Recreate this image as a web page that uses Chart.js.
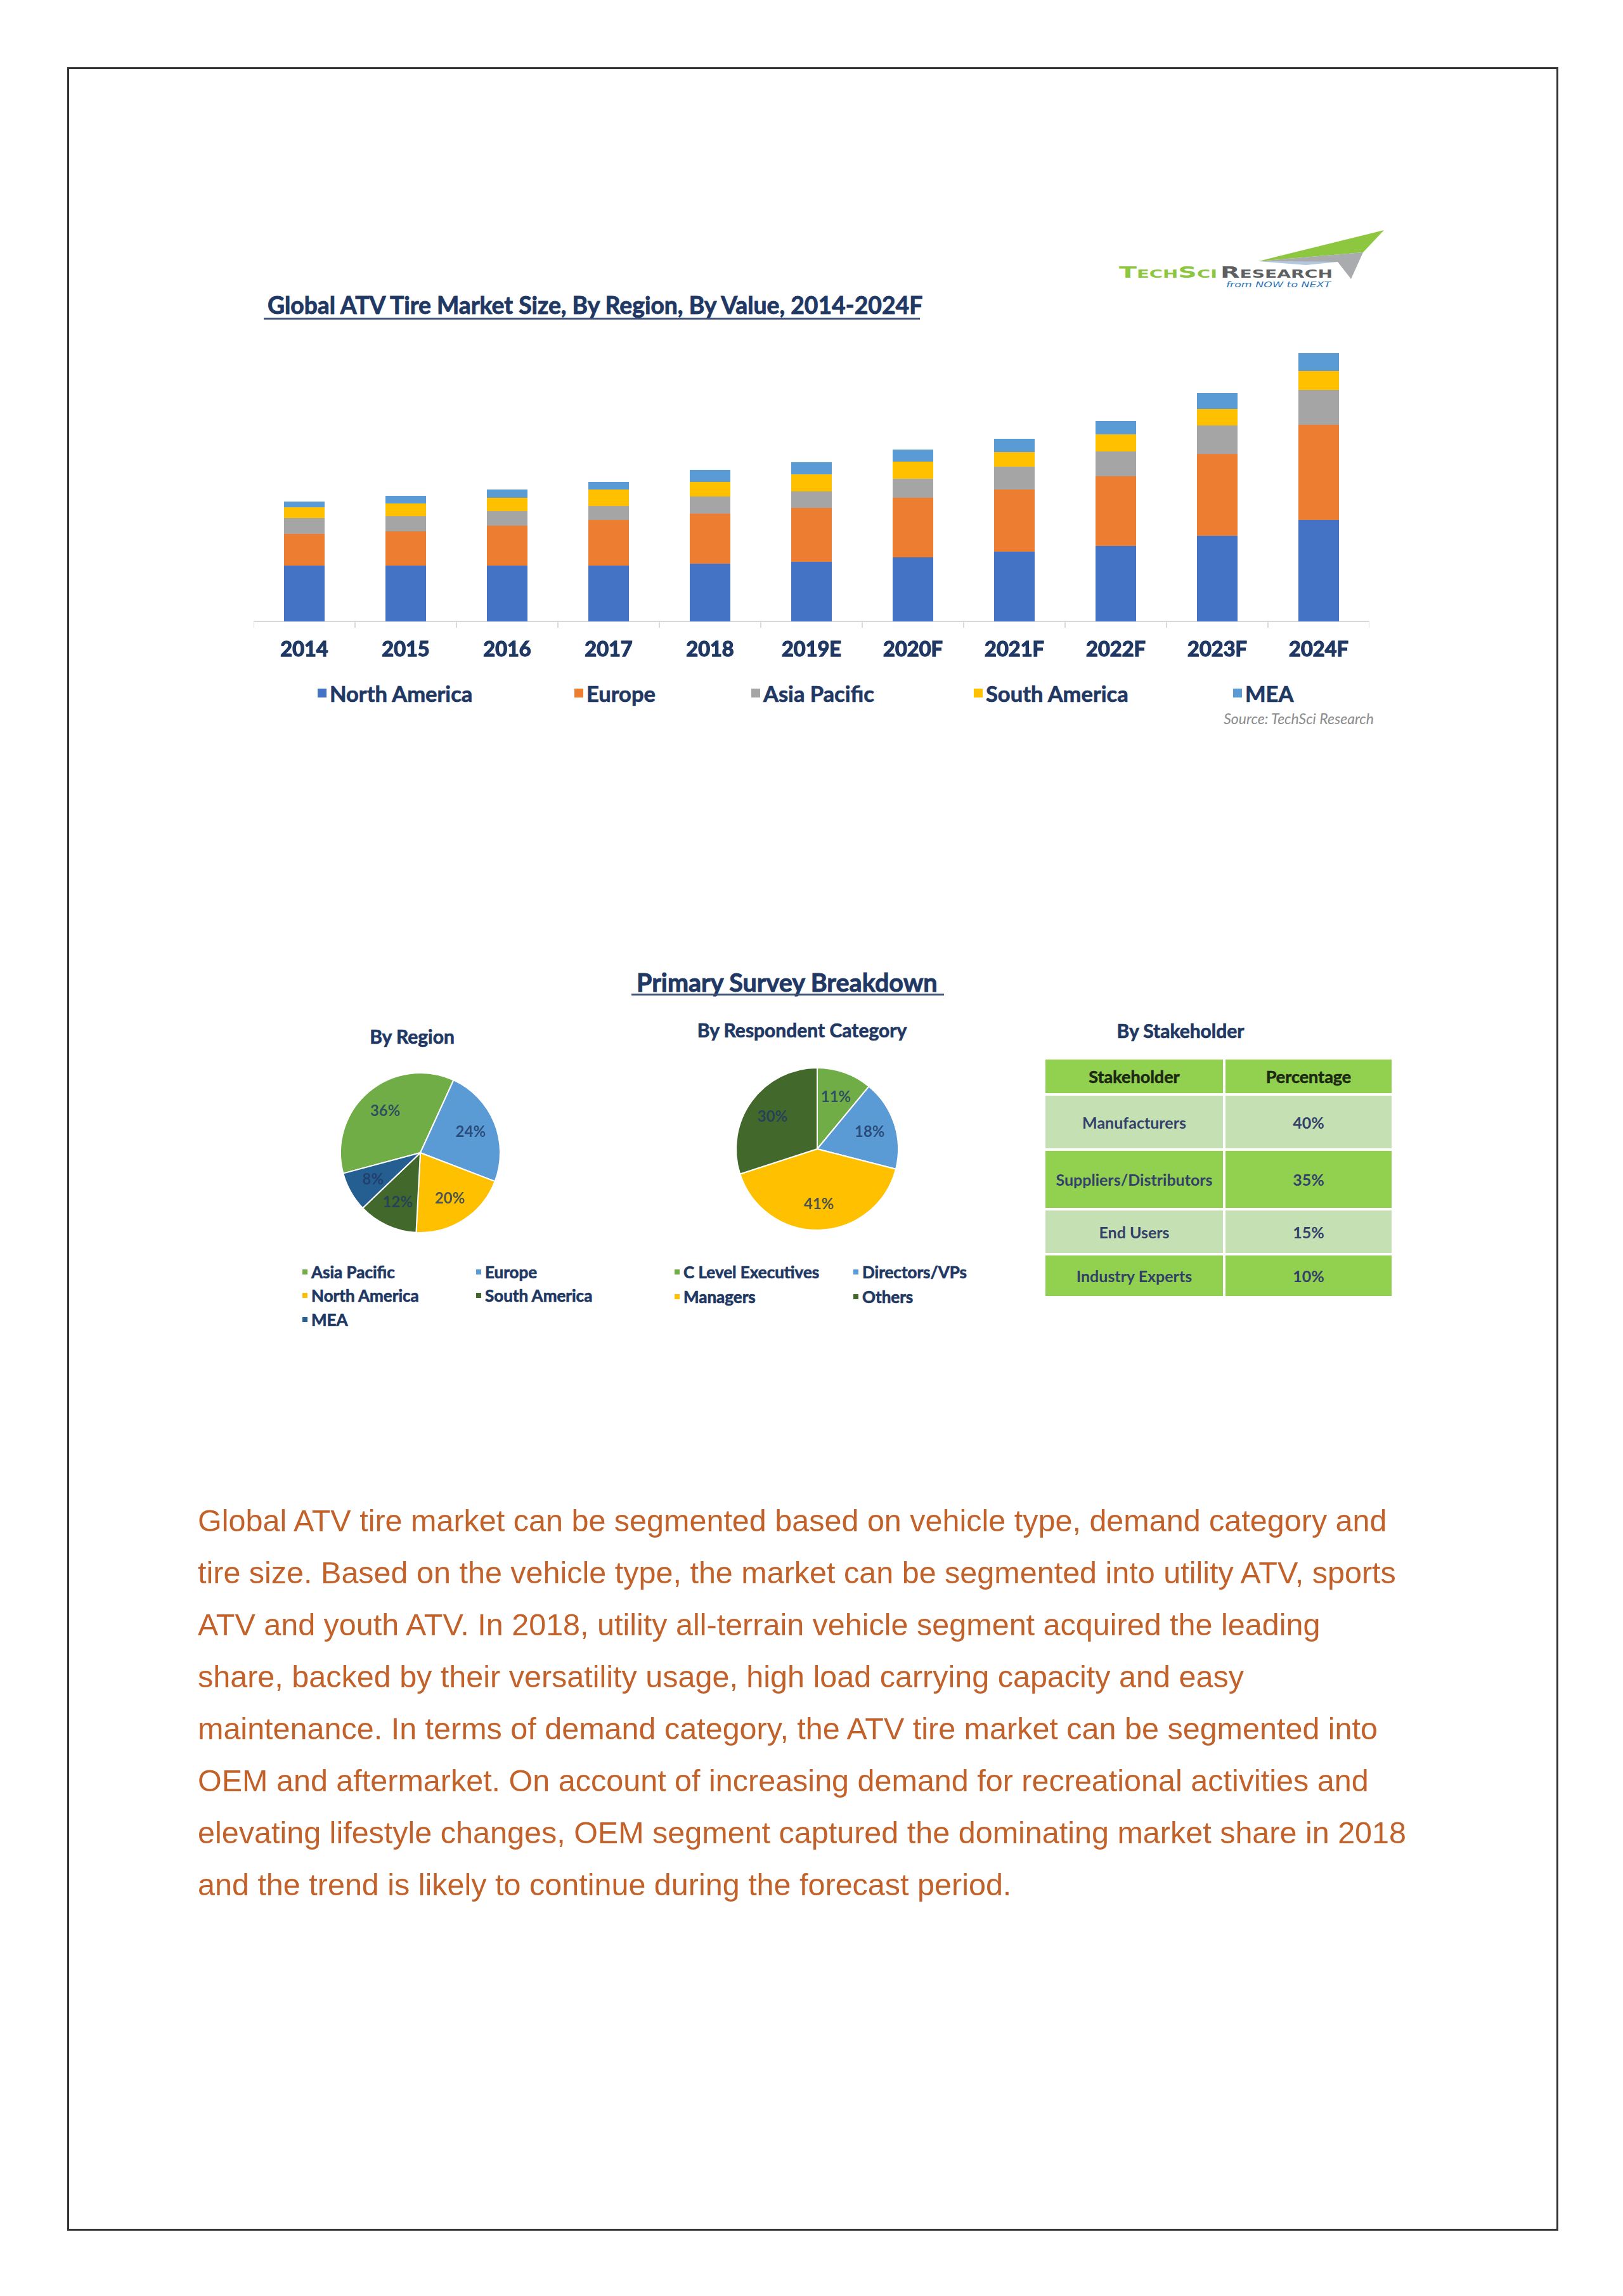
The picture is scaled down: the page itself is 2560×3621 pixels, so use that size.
<!DOCTYPE html>
<html>
<head>
<meta charset="utf-8">
<script src="https://cdn.jsdelivr.net/npm/chart.js@4.4.1/dist/chart.umd.min.js"></script>
<style>
html,body{margin:0;padding:0;background:#fff;}
body{width:2560px;height:3621px;position:relative;overflow:hidden;font-family:Lato,'Open Sans',sans-serif;}
.abs{position:absolute;white-space:nowrap;line-height:1;}
#frame{position:absolute;left:106px;top:106px;width:2352px;height:3412px;border:3px solid #333;box-sizing:border-box;}
.title{font-weight:700;color:#1F3864;-webkit-text-stroke:0.9px #1F3864;}
.uline{position:absolute;height:3px;background:#3E5077;}
.sub{font-weight:700;color:#1F3864;font-size:30px;text-align:center;width:500px;-webkit-text-stroke:0.7px #1F3864;}
.leg{position:absolute;display:flex;align-items:center;white-space:nowrap;color:#1F3864;font-weight:700;-webkit-text-stroke:0.7px #1F3864;}
.leg i{display:inline-block;}
#tbl{position:absolute;left:1645px;top:1667px;border-collapse:separate;border-spacing:4px;font-family:Lato,sans-serif;}
#tbl td,#tbl th{text-align:center;padding:0;}
#tbl th{font-size:27px;font-weight:700;color:#1C2A14;background:#92D050;height:53px;-webkit-text-stroke:0.6px #1C2A14;}
#tbl td{font-size:25px;font-weight:700;color:#33406A;}
#para{position:absolute;left:312px;top:2357px;font-family:'Liberation Sans',Arial,sans-serif;font-size:48.5px;line-height:82px;color:#C2622A;white-space:nowrap;}
canvas{position:absolute;}
</style>
</head>
<body>
<div id="frame"></div>

<!-- logo -->
<svg class="abs" style="left:1750px;top:350px" width="450" height="115" viewBox="1750 350 450 115">
  <polygon points="1985,412 2183,363 2150,398" fill="#8DC63F"/>
  <polygon points="1985,412 2150,398 2131,440 2110,413" fill="#A9ABAE"/>
  <polygon points="1985,412 2110,413 2060,418" fill="#7FA3C8" opacity="0.6"/>
  <text x="1765" y="438" font-family="DejaVu Sans" font-weight="bold" font-size="24" fill="#8DC63F" textLength="155" lengthAdjust="spacingAndGlyphs" style="font-variant:small-caps">TechSci</text>
  <text x="1925" y="438" font-family="DejaVu Sans" font-weight="bold" font-size="24" fill="#5E5F62" textLength="177" lengthAdjust="spacingAndGlyphs" style="font-variant:small-caps">Research</text>
  <text x="1934" y="453" font-family="DejaVu Sans" font-size="12" font-style="italic" fill="#2E75B6" textLength="165" lengthAdjust="spacingAndGlyphs">from NOW to NEXT</text>
</svg>

<div class="abs title" style="left:422px;top:462px;font-size:37.3px;">Global ATV Tire Market Size, By Region, By Value, 2014-2024F</div>
<div class="uline" style="left:416px;top:501px;width:1035px;"></div>

<canvas id="bar" width="1760" height="560" style="left:400px;top:480px;"></canvas>
<div id="barLegend"></div>
<div class="abs" style="right:393px;top:1122px;font-size:23px;font-style:italic;color:#8C8C8C;">Source: TechSci Research</div>

<div class="abs title" style="left:1004px;top:1529px;font-size:39.5px;">Primary Survey Breakdown</div>
<div class="uline" style="left:996px;top:1567px;width:493px;"></div>

<div class="abs sub" style="left:400px;top:1619px;">By Region</div>
<div class="abs sub" style="left:1015px;top:1609px;">By Respondent Category</div>
<div class="abs sub" style="left:1612px;top:1610px;">By Stakeholder</div>

<canvas id="pie1" width="280" height="280" style="left:523px;top:1678px;"></canvas>
<canvas id="pie2" width="280" height="280" style="left:1149px;top:1672px;"></canvas>
<div id="pieLegends"></div>

<table id="tbl"><thead><tr id="tblHead"></tr></thead><tbody id="tblBody"></tbody></table>

<div id="para"></div>

<script>
// ---------- data ----------
const years = ['2014','2015','2016','2017','2018','2019E','2020F','2021F','2022F','2023F','2024F'];
const barRegions = ['North America','Europe','Asia Pacific','South America','MEA'];
const northAmerica = [88, 88, 88, 88, 91, 94, 101, 110, 119, 135, 160];
const europe       = [50, 54, 63, 72, 79, 85, 94, 98, 110, 129, 150];
const asiaPacific  = [25, 24, 23, 22, 27, 26, 30, 36, 39, 45, 55];
const southAmerica = [17, 20, 21, 26, 23, 27, 27, 23, 27, 26, 30];
const mea          = [9, 12, 13, 12, 19, 19, 19, 21, 21, 25, 28];

const regionLabels = ['Asia Pacific','Europe','North America','South America','MEA'];
const regionShare  = [36, 24, 20, 12, 8];

const respondentLabels = ['C Level Executives','Directors/VPs','Managers','Others'];
const respondentShare  = [11, 18, 41, 30];

const stakeholderHeader = ['Stakeholder','Percentage'];
const stakeholders = ['Manufacturers','Suppliers/Distributors','End Users','Industry Experts'];
const stakeholderShare = ['40%','35%','15%','10%'];

const paragraphLines = [
  'Global ATV tire market can be segmented based on vehicle type, demand category and',
  'tire size. Based on the vehicle type, the market can be segmented into utility ATV, sports',
  'ATV and youth ATV. In 2018, utility all-terrain vehicle segment acquired the leading',
  'share, backed by their versatility usage, high load carrying capacity and easy',
  'maintenance. In terms of demand category, the ATV tire market can be segmented into',
  'OEM and aftermarket. On account of increasing demand for recreational activities and',
  'elevating lifestyle changes, OEM segment captured the dominating market share in 2018',
  'and the trend is likely to continue during the forecast period.'
];

// ---------- styles / layout ----------
const barColors = ['#4472C4','#ED7D31','#A5A5A5','#FFC000','#5B9BD5'];
const regionColors = ['#70AD47','#5B9BD5','#FFC000','#43682B','#255E91'];
const respondentColors = ['#70AD47','#5B9BD5','#FFC000','#43682B'];
const barSeries = [northAmerica, europe, asiaPacific, southAmerica, mea];

Chart.defaults.font.family = "Lato, 'Open Sans', sans-serif";

const barChart = new Chart(document.getElementById('bar'), {
  type: 'bar',
  data: {
    labels: years,
    datasets: barRegions.map((name, i) => ({
      label: name, data: barSeries[i], backgroundColor: barColors[i], borderWidth: 0,
      barPercentage: 0.4, categoryPercentage: 1.0
    }))
  },
  options: {
    responsive: false, animation: false, devicePixelRatio: 1,
    layout: { padding: 0 },
    plugins: { legend: { display: false }, tooltip: { enabled: false } },
    scales: {
      x: {
        stacked: true,
        grid: { display: true, drawOnChartArea: false, drawTicks: true, tickLength: 10, color: '#D9D9D9', lineWidth: 2 },
        border: { display: true, color: '#D9D9D9', width: 2 },
        ticks: { color: '#1F3864', font: { size: 32.5, weight: 'bold' }, padding: 15, maxRotation: 0, autoSkip: false,
                 textStrokeColor: '#1F3864', textStrokeWidth: 1.4 },
        afterFit: (s) => { s.height = 60; }
      },
      y: { stacked: true, display: false, min: 0, max: 500 }
    }
  }
});

// bar legend (HTML, built from chart datasets)
const barLegendX = [501, 906, 1185, 1536, 1945];
const bl = document.getElementById('barLegend');
barChart.data.datasets.forEach((ds, i) => {
  const d = document.createElement('div');
  d.className = 'leg';
  d.style.cssText = `left:${barLegendX[i]}px;top:1073px;height:40px;font-size:34.5px;`;
  d.innerHTML = `<i style="width:14px;height:14px;background:${ds.backgroundColor};margin-right:5px;"></i><span>${ds.label}</span>`;
  bl.appendChild(d);
});

// pie percentage labels plugin
const pctLabels = {
  id: 'pctLabels',
  afterDatasetsDraw(chart) {
    const ctx = chart.ctx;
    const meta = chart.getDatasetMeta(0);
    const vals = chart.data.datasets[0].data;
    ctx.save();
    ctx.font = "bold 24px Lato, sans-serif";
    ctx.fillStyle = 'rgba(31,56,100,0.8)';
    ctx.textAlign = 'center';
    ctx.textBaseline = 'middle';
    meta.data.forEach((arc, i) => {
      const p = arc.getProps(['x','y','startAngle','endAngle','outerRadius'], true);
      const mid = (p.startAngle + p.endAngle) / 2;
      const r = p.outerRadius * 0.68;
      ctx.fillText(vals[i] + '%', p.x + Math.cos(mid) * r, p.y + Math.sin(mid) * r);
    });
    ctx.restore();
  }
};

function makePie(id, labels, values, colors, rotation, radius) {
  return new Chart(document.getElementById(id), {
    type: 'pie',
    data: { labels, datasets: [{ data: values, backgroundColor: colors, borderColor: '#FFFFFF', borderWidth: 2 }] },
    options: {
      responsive: false, animation: false, devicePixelRatio: 1,
      rotation, radius,
      plugins: { legend: { display: false }, tooltip: { enabled: false } }
    },
    plugins: [pctLabels]
  });
}
const pie1 = makePie('pie1', regionLabels, regionShare, regionColors, 255, 126);
const pie2 = makePie('pie2', respondentLabels, respondentShare, respondentColors, 0, 128);

// pie legends (HTML, built from chart data)
function pieLegend(chart, cols, rows) {
  const host = document.getElementById('pieLegends');
  chart.data.labels.forEach((lab, i) => {
    const d = document.createElement('div');
    d.className = 'leg';
    const x = cols[i % 2], y = rows[Math.floor(i / 2)];
    d.style.cssText = `left:${x}px;top:${y - 15}px;height:30px;font-size:26px;`;
    d.innerHTML = `<i style="width:8px;height:8px;background:${chart.data.datasets[0].backgroundColor[i]};margin-right:6px;"></i><span>${lab}</span>`;
    host.appendChild(d);
  });
}
pieLegend(pie1, [477, 751], [2006, 2043, 2081]);
pieLegend(pie2, [1064, 1346], [2006, 2045]);

// table
const rowBg = ['#C5E0B3','#92D050','#C5E0B3','#92D050'];
const rowH = [83, 90, 67, 64];
document.getElementById('tblHead').innerHTML =
  `<th style="width:280px">${stakeholderHeader[0]}</th><th style="width:262px">${stakeholderHeader[1]}</th>`;
document.getElementById('tblBody').innerHTML = stakeholders.map((s, i) =>
  `<tr style="height:${rowH[i]}px"><td style="background:${rowBg[i]}">${s}</td><td style="background:${rowBg[i]}">${stakeholderShare[i]}</td></tr>`).join('');

// paragraph
document.getElementById('para').innerHTML = paragraphLines.map(l => `<div>${l}</div>`).join('');
</script>
</body>
</html>
